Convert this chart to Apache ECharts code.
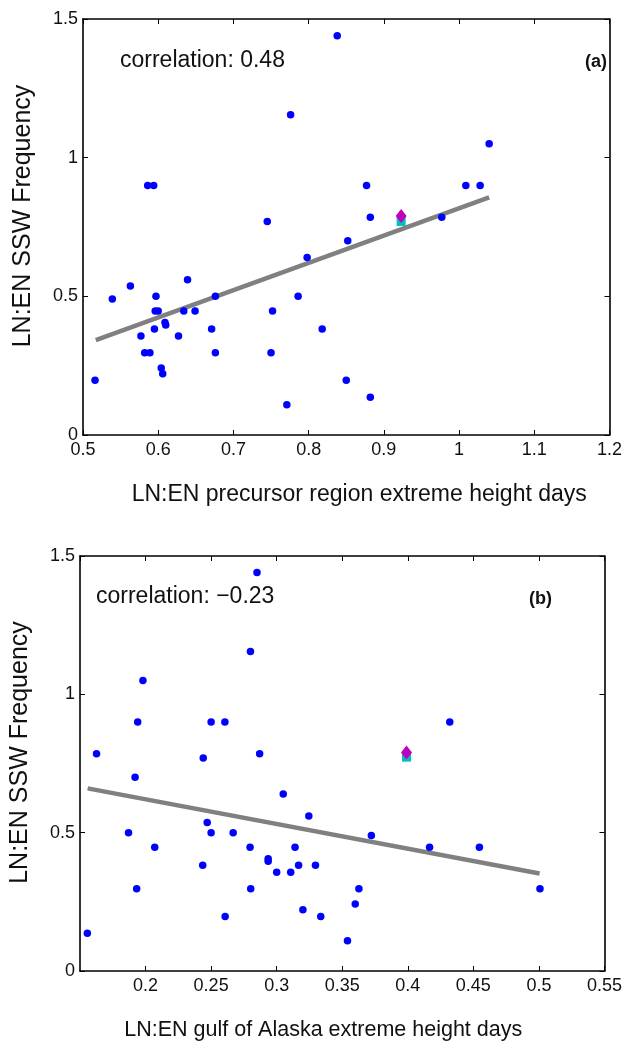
<!DOCTYPE html>
<html>
<head>
<meta charset="utf-8">
<script src="https://cdn.jsdelivr.net/npm/echarts@6/dist/echarts.min.js"></script>
<style>
html, body { margin: 0; padding: 0; background: #fff; }
#chart { width: 625px; height: 1042px; }
</style>
</head>
<body>
<div id="chart"></div>
<script>
// panel (a): precursor region extreme height days vs SSW frequency
var aX = [0.838, 0.776, 0.586, 0.594, 0.745, 0.877, 1.040, 1.009, 1.028, 0.882, 0.977,
          0.852, 0.798, 0.563, 0.539, 0.639, 0.597, 0.676, 0.786, 0.596, 0.600, 0.634,
          0.649, 0.752, 0.609, 0.610, 0.595, 0.671, 0.818, 0.577, 0.627, 0.582, 0.589,
          0.676, 0.750, 0.604, 0.606, 0.516, 0.850, 0.771, 0.882];
var aY = [1.44, 1.155, 0.90, 0.90, 0.77, 0.90, 1.05, 0.90, 0.90, 0.785, 0.785,
          0.70, 0.64, 0.537, 0.49, 0.56, 0.50, 0.50, 0.50, 0.447, 0.447, 0.447,
          0.447, 0.447, 0.406, 0.397, 0.382, 0.382, 0.382, 0.357, 0.357, 0.297, 0.297,
          0.297, 0.297, 0.242, 0.221, 0.197, 0.197, 0.109, 0.136];
var aFitX = [0.517, 1.040];
var aFitY = [0.342, 0.857];
var aSquare = [0.923, 0.770];
var aDiamond = [0.923, 0.790];

// panel (b): gulf of Alaska extreme height days vs SSW frequency
var bX = [0.285, 0.280, 0.198, 0.194, 0.250, 0.2605, 0.1626, 0.244, 0.287, 0.432,
          0.192, 0.305, 0.3245, 0.247, 0.187, 0.250, 0.2668, 0.207, 0.2797, 0.314,
          0.2935, 0.2935, 0.2436, 0.3167, 0.3296, 0.300, 0.3107, 0.1932, 0.2802, 0.320,
          0.3336, 0.2607, 0.1556, 0.354, 0.3722, 0.4166, 0.4546, 0.3627, 0.3599, 0.5008];
var bY = [1.44, 1.155, 1.05, 0.90, 0.90, 0.90, 0.785, 0.77, 0.785, 0.90,
          0.70, 0.64, 0.56, 0.537, 0.50, 0.50, 0.50, 0.447, 0.447, 0.447,
          0.406, 0.397, 0.382, 0.382, 0.382, 0.357, 0.357, 0.297, 0.297, 0.221,
          0.197, 0.197, 0.136, 0.109, 0.49, 0.447, 0.447, 0.297, 0.242, 0.297];
var bFitX = [0.1558, 0.5005];
var bFitY = [0.660, 0.3525];
var bSquare = [0.399, 0.773];
var bDiamond = [0.399, 0.790];

var yTicks = [0, 1.5, 0.5];          // min, max, interval
var aXTicks = [0.5, 1.2, 0.1];
var bXTicks = [0.15, 0.55, 0.05];

var texts = {
    yName: 'LN:EN SSW Frequency',
    aXName: 'LN:EN precursor region extreme height days',
    bXName: 'LN:EN gulf of Alaska extreme height days',
    aCorr: 'correlation: 0.48',
    bCorr: 'correlation: \u22120.23'
};

function zip(xs, ys) {
    var out = [];
    for (var i = 0; i < xs.length; i++) out.push([xs[i], ys[i]]);
    return out;
}

var font = 'Liberation Sans, Arial, Helvetica, sans-serif';
var axisLine = { show: true, onZero: false, lineStyle: { color: '#000', width: 1.6 } };
var axisTick = { show: true, inside: true, length: 5, lineStyle: { color: '#000', width: 1 } };
var labelStyle = { color: '#111', fontSize: 18, fontFamily: font };

function xAxes(g, t, xName, nameSize, shift, hideMin) {
    return [{
        type: 'value', gridIndex: g, position: 'bottom',
        min: t[0], max: t[1], interval: t[2],
        axisLine: axisLine, axisTick: axisTick, splitLine: { show: false },
        axisLabel: Object.assign({ margin: 6, showMinLabel: !hideMin }, labelStyle),
        name: xName, nameLocation: 'middle', nameGap: 48,
        nameTextStyle: { color: '#111', fontSize: nameSize, fontFamily: font, padding: shift }
    }, {
        type: 'value', gridIndex: g, position: 'top',
        min: t[0], max: t[1], interval: t[2],
        axisLine: axisLine, axisTick: axisTick, splitLine: { show: false },
        axisLabel: { show: false }
    }];
}

function yAxes(g) {
    return [{
        type: 'value', gridIndex: g, position: 'left',
        min: yTicks[0], max: yTicks[1], interval: yTicks[2],
        axisLine: axisLine, axisTick: axisTick, splitLine: { show: false },
        axisLabel: Object.assign({ margin: 5 }, labelStyle),
        name: texts.yName, nameLocation: 'middle', nameGap: 47, nameRotate: 90,
        nameTextStyle: { color: '#111', fontSize: 25, fontFamily: font, padding: [0, 0, 0, 22] }
    }, {
        type: 'value', gridIndex: g, position: 'right',
        min: yTicks[0], max: yTicks[1], interval: yTicks[2],
        axisLine: axisLine, axisTick: axisTick, splitLine: { show: false },
        axisLabel: { show: false }
    }];
}

function panelSeries(g, xs, ys, fitX, fitY, sq, dia) {
    return [{
        type: 'line', xAxisIndex: g * 2, yAxisIndex: g * 2,
        data: zip(fitX, fitY), symbol: 'none', silent: true,
        lineStyle: { color: '#808080', width: 4.5 }, z: 2
    }, {
        type: 'scatter', xAxisIndex: g * 2, yAxisIndex: g * 2,
        data: zip(xs, ys), symbol: 'circle', symbolSize: 7.5,
        itemStyle: { color: '#0000ff', opacity: 1 }, z: 3
    }, {
        type: 'scatter', xAxisIndex: g * 2, yAxisIndex: g * 2,
        data: [sq], symbol: 'rect', symbolSize: 9,
        itemStyle: { color: '#00bfbf', opacity: 1 }, z: 4
    }, {
        type: 'scatter', xAxisIndex: g * 2, yAxisIndex: g * 2,
        data: [dia], symbol: 'diamond', symbolSize: [11, 14],
        itemStyle: { color: '#bf00bf', opacity: 1 }, z: 5
    }];
}

var chart = echarts.init(document.getElementById('chart'), null, { renderer: 'canvas' });
chart.setOption({
    backgroundColor: '#fff',
    animation: false,
    grid: [
        { left: 83, top: 19, width: 528, height: 416 },
        { left: 77, top: 556, width: 529, height: 417 }
    ],
    xAxis: xAxes(0, aXTicks, texts.aXName, 23, [0, 0, 0, 26], false)
        .concat(xAxes(1, bXTicks, texts.bXName, 21.5, [0, 38, 0, 0], true)),
    yAxis: yAxes(0).concat(yAxes(1)),
    series: panelSeries(0, aX, aY, aFitX, aFitY, aSquare, aDiamond)
        .concat(panelSeries(1, bX, bY, bFitX, bFitY, bSquare, bDiamond)),
    graphic: [
        { type: 'text', left: 120, top: 49, style: { text: texts.aCorr, fill: '#111', font: '23px ' + font } },
        { type: 'text', left: 585, top: 53, style: { text: '(a)', fill: '#111', font: 'bold 18px ' + font } },
        { type: 'text', left: 96, top: 585, style: { text: texts.bCorr, fill: '#111', font: '23px ' + font } },
        { type: 'text', left: 529, top: 590, style: { text: '(b)', fill: '#111', font: 'bold 18px ' + font } }
    ]
});
</script>
</body>
</html>
